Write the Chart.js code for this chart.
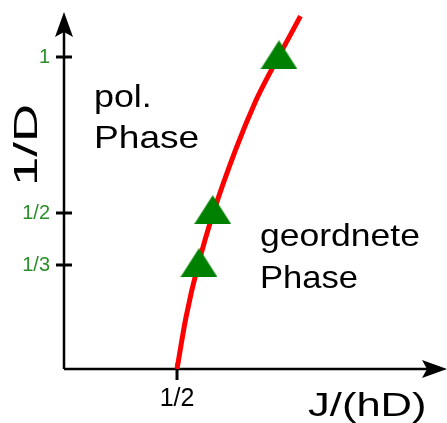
<!DOCTYPE html>
<html>
<head>
<meta charset="utf-8">
<script src="https://cdn.jsdelivr.net/npm/chart.js@4"></script>
<style>
  html, body { margin: 0; padding: 0; background: #fff; }
  canvas { display: block; }
</style>
</head>
<body>
<canvas id="phase" width="447" height="423"></canvas>
<script>
// boundary line J/(hD) vs 1/D
const curveX = [0.5, 0.540, 0.591, 0.659, 0.759, 0.850, 0.920, 0.989, 1.046];
const curveY = [0, 0.167, 0.327, 0.497, 0.702, 0.862, 0.962, 1.054, 1.131];

// measured points (triangles)
const pointX = [0.597, 0.658, 0.951];
const pointY = [0.341, 0.511, 1.007];

// tick labels
const xTickValues = [0.5];
const xTickLabels = ["1/2"];
const yTickValues = [1 / 3, 0.5, 1];
const yTickLabels = ["1/3", "1/2", "1"];

const FONT = "'Liberation Sans', Arial, sans-serif";
const green = "#008000";
const tickGreen = "#2a8f2a";

const toXY = (xs, ys) => xs.map((x, i) => ({ x: x, y: ys[i] }));

// flat triangle marker (wider than equilateral)
const tri = document.createElement("canvas");
tri.width = 37;
tri.height = 29;
const tc = tri.getContext("2d");
tc.fillStyle = green;
tc.beginPath();
tc.moveTo(18.5, 0);
tc.lineTo(37, 29);
tc.lineTo(0, 29);
tc.closePath();
tc.fill();

// axis lines with arrows and crossing tick marks
const axesPlugin = {
  id: "axes",
  beforeDatasetsDraw(chart) {
    const ctx = chart.ctx;
    const a = chart.chartArea;
    const xs = chart.scales.x, ys = chart.scales.y;
    ctx.save();
    ctx.strokeStyle = "#000";
    ctx.fillStyle = "#000";
    ctx.lineWidth = 2.5;
    ctx.beginPath();
    ctx.moveTo(a.left, a.bottom);
    ctx.lineTo(a.left, a.top + 10);
    ctx.moveTo(a.left, a.bottom);
    ctx.lineTo(a.right - 10, a.bottom);
    ctx.stroke();

    // arrow heads
    ctx.beginPath();
    ctx.moveTo(a.left, a.top - 1);
    ctx.lineTo(a.left + 9, a.top + 24);
    ctx.lineTo(a.left, a.top + 19);
    ctx.lineTo(a.left - 9, a.top + 24);
    ctx.closePath();
    ctx.fill();
    ctx.beginPath();
    ctx.moveTo(a.right + 1, a.bottom);
    ctx.lineTo(a.right - 24, a.bottom - 9);
    ctx.lineTo(a.right - 19, a.bottom);
    ctx.lineTo(a.right - 24, a.bottom + 9);
    ctx.closePath();
    ctx.fill();

    // tick marks
    ctx.lineWidth = 3;
    ctx.beginPath();
    yTickValues.forEach(v => {
      const py = ys.getPixelForValue(v);
      ctx.moveTo(a.left - 8, py);
      ctx.lineTo(a.left + 8, py);
    });
    xTickValues.forEach(v => {
      const px = xs.getPixelForValue(v);
      ctx.moveTo(px, a.bottom - 6);
      ctx.lineTo(px, a.bottom + 11);
    });
    ctx.stroke();
    ctx.restore();
  },
  afterDraw(chart) {
    const ctx = chart.ctx;
    ctx.save();
    ctx.fillStyle = "#000";
    ctx.textBaseline = "alphabetic";
    ctx.textAlign = "left";
    const put = (txt, x, y, size, sx) => {
      ctx.save();
      ctx.translate(x, y);
      ctx.scale(sx, 1);
      ctx.font = size + "px " + FONT;
      ctx.fillText(txt, 0, 0);
      ctx.restore();
    };
    put("pol.", 94, 107, 32, 1.12);
    put("Phase", 94, 148, 32, 1.16);
    put("geordnete", 260, 246, 32, 1.11);
    put("Phase", 260, 288, 32, 1.08);
    put("J/(hD)", 308, 416, 33, 1.32);

    // y title, rotated
    ctx.save();
    ctx.translate(37, 145);
    ctx.rotate(-Math.PI / 2);
    ctx.scale(1.6, 1);
    ctx.textAlign = "center";
    ctx.font = "33px " + FONT;
    ctx.fillText("1/D", 0, 0);
    ctx.restore();
    ctx.restore();
  }
};

new Chart(document.getElementById("phase"), {
  type: "scatter",
  data: {
    datasets: [
      {
        label: "points",
        data: toXY(pointX, pointY),
        pointStyle: tri,
        pointRadius: 18,
        pointHoverRadius: 18,
        backgroundColor: green,
        borderWidth: 0,
        order: 0
      },
      {
        label: "boundary",
        data: toXY(curveX, curveY),
        showLine: true,
        tension: 0.3,
        borderColor: "#ff0000",
        borderWidth: 5,
        pointRadius: 0,
        order: 1
      }
    ]
  },
  options: {
    responsive: false,
    devicePixelRatio: 1,
    animation: false,
    events: [],
    layout: { autoPadding: false, padding: { top: 13, right: 1, left: 0, bottom: 0 } },
    plugins: { legend: { display: false }, tooltip: { enabled: false } },
    scales: {
      x: {
        type: "linear",
        min: 0,
        max: 1.69,
        grid: { display: false, drawTicks: false },
        border: { display: false },
        afterBuildTicks: s => { s.ticks = xTickValues.map(v => ({ value: v })); },
        afterFit: s => { s.height = 54; s.paddingLeft = 0; s.paddingRight = 0; },
        ticks: {
          padding: 15,
          color: "#000",
          font: { family: FONT, size: 25 },
          callback: v => xTickLabels[xTickValues.indexOf(v)]
        }
      },
      y: {
        type: "linear",
        min: 0,
        max: 1.141,
        grid: { display: false, drawTicks: false },
        border: { display: false },
        afterBuildTicks: s => { s.ticks = yTickValues.map(v => ({ value: v })); },
        afterFit: s => { s.width = 64; s.paddingTop = 0; s.paddingBottom = 0; },
        ticks: {
          padding: 14,
          color: tickGreen,
          font: { family: FONT, size: 20 },
          callback: v => yTickLabels[yTickValues.indexOf(v)]
        }
      }
    }
  },
  plugins: [axesPlugin]
});
</script>
</body>
</html>
